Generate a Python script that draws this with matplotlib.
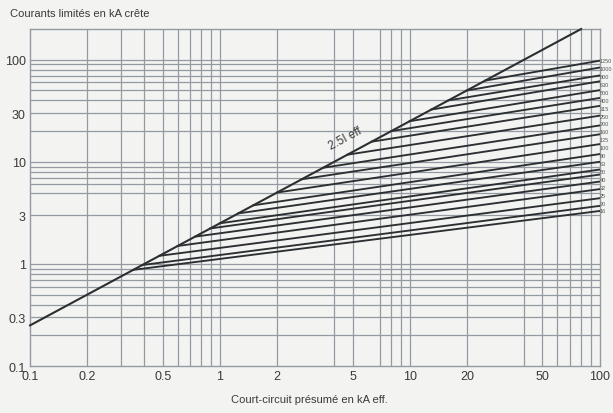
import numpy as np
import matplotlib
matplotlib.use("Agg")
import matplotlib.pyplot as plt

plt.rcParams['font.family'] = ['Liberation Sans', 'DejaVu Sans']

# fuse ratings (A), read top to bottom on the right edge
ratings = ["1250", "1000", "800", "630", "500", "400", "315", "250", "200", "160",
           "125", "100", "80", "63", "50", "40", "32", "25", "20", "16"]
# limited peak current at 100 kA eff. (kA crête)
peak_at_100 = [97.8, 83.8, 70.1, 61.4, 50.3, 42.2, 35.3, 28.3, 22.7, 18.6,
               14.9, 11.9, 10.0, 8.4, 7.5, 6.4, 5.4, 4.4, 3.7, 3.3]
# prospective current where each curve leaves the 2.5 I line (kA eff.)
branch_x = [25, 20, 16, 13, 10, 8, 6.3, 4.7, 3.5, 2.7,
            2.0, 1.5, 1.25, 1.0, 0.89, 0.74, 0.6, 0.48, 0.39, 0.35]

# 2.5 I eff line end points
line25_x = [0.1, 80]
line25_y = [0.25, 200]

x_ticks = [0.1, 0.2, 0.5, 1, 2, 5, 10, 20, 50, 100]
x_ticklabels = ["0.1", "0.2", "0.5", "1", "2", "5", "10", "20", "50", "100"]
y_ticks = [0.1, 0.3, 1, 3, 10, 30, 100]
y_ticklabels = ["0.1", "0.3", "1", "3", "10", "30", "100"]

x_grid = [0.2, 0.3, 0.4, 0.5, 0.6, 0.7, 0.8, 0.9, 1, 2, 4, 5, 7, 8, 9, 10,
          20, 40, 50, 60, 70, 80, 90]
y_grid = [0.2, 0.3, 0.4, 0.5, 0.6, 0.7, 0.8, 0.9, 1, 3, 5, 6, 7, 8, 9, 10,
          20, 30, 40, 50, 60, 70, 80, 90, 100]

bg = "#f3f3f1"
grid_c = "#939aa2"
ink = "#2b2f31"
txt = "#3a3a3a"

fig = plt.figure(figsize=(6.13, 4.14), dpi=100, facecolor=bg)
ax = fig.add_axes([0.049, 0.1135, 0.929, 0.814])
ax.set_facecolor(bg)
ax.set_xscale("log")
ax.set_yscale("log")
ax.set_xlim(0.1, 100)
ax.set_ylim(0.1, 200)

for gx in x_grid:
    ax.axvline(gx, color=grid_c, lw=0.9, zorder=1)
for gy in y_grid:
    ax.axhline(gy, color=grid_c, lw=0.9, zorder=1)

ax.plot(line25_x, line25_y, color=ink, lw=1.5, zorder=3, clip_on=False)

for xb, y100 in zip(branch_x, peak_at_100):
    ax.plot([xb, 100], [2.5 * xb, y100], color=ink, lw=1.35, zorder=3)

# rating labels evenly stacked along the right edge
label_y = np.geomspace(peak_at_100[0], peak_at_100[-1], len(ratings))
for ly, lab in zip(label_y, ratings):
    ax.text(100.6, ly, lab, fontsize=4.0, color="#555555", va="center", ha="left",
            clip_on=False)

ax.text(4.6, 17.0, "2.5I eff", fontsize=8.5, color=txt, rotation=28,
        ha="center", va="center", zorder=4)

ax.set_xticks(x_ticks)
ax.set_xticklabels(x_ticklabels)
ax.set_yticks(y_ticks)
ax.set_yticklabels(y_ticklabels)
ax.minorticks_off()
ax.tick_params(length=0, labelsize=9, colors=txt, pad=3)
for s in ax.spines.values():
    s.set_color(grid_c)
    s.set_linewidth(1.0)

fig.text(0.017, 0.966, "Courants limités en kA crête", fontsize=8, color=txt,
         ha="left", va="center")
fig.text(0.505, 0.033, "Court-circuit présumé en kA eff.", fontsize=8, color=txt,
         ha="center", va="center")

fig.savefig("out.png", dpi=100, facecolor=bg)
